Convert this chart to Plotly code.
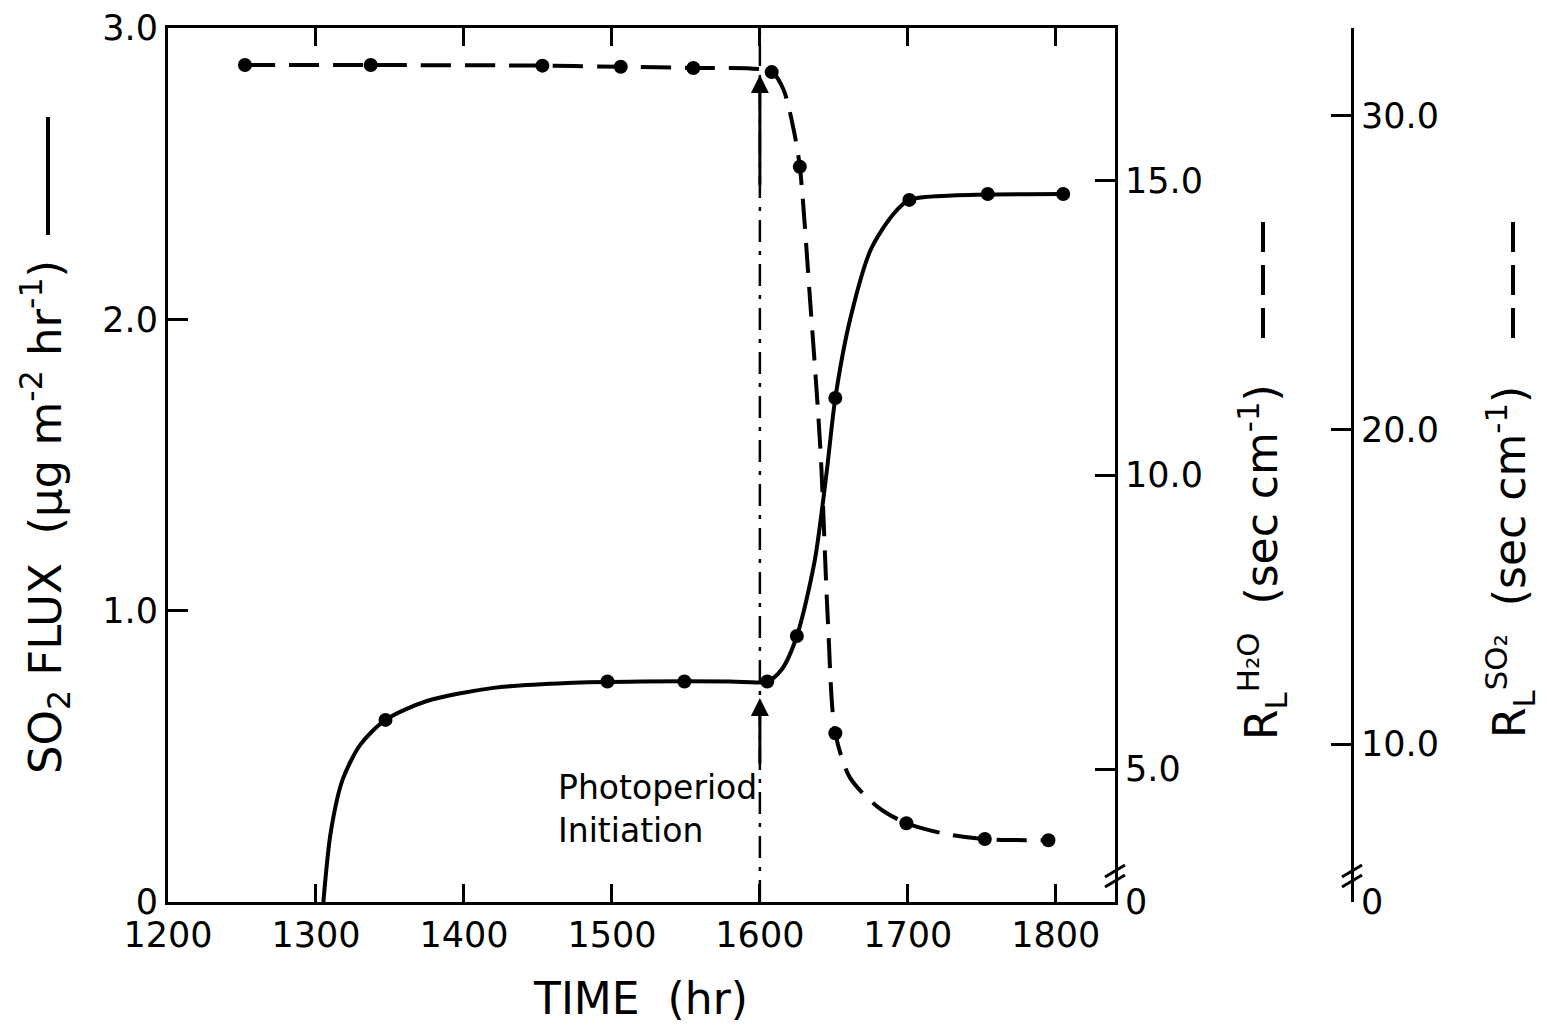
import plotly.graph_objects as go

# ---------------- data ----------------
# SO2 flux (left axis) measured points
flux_t = [1347, 1497, 1549, 1605, 1625, 1651, 1701, 1754, 1805]
flux_v = [0.625, 0.757, 0.757, 0.757, 0.913, 1.73, 2.41, 2.43, 2.43]
# SO2 flux smooth curve as drawn
flux_curve_t = [1305, 1310, 1318, 1330, 1347, 1375, 1420, 1470, 1520, 1580, 1605,
                1615, 1625, 1637, 1645, 1651, 1661, 1675, 1690, 1701, 1730, 1805]
flux_curve_v = [0.0, 0.24, 0.42, 0.54, 0.625, 0.69, 0.735, 0.752, 0.757, 0.757, 0.757,
                0.80, 0.913, 1.17, 1.47, 1.73, 2.00, 2.24, 2.36, 2.41, 2.425, 2.43]
# Leaf resistance to water vapour (right axis), measured points
res_t = [1252, 1337, 1453, 1506, 1555, 1608, 1627, 1651, 1699, 1752, 1795]
res_v = [16.97, 16.97, 16.96, 16.94, 16.92, 16.85, 15.24, 5.61, 4.08, 3.81, 3.79]
# resistance smooth curve as drawn
res_curve_t = [1252, 1337, 1453, 1506, 1555, 1608, 1616, 1623, 1627, 1634, 1641,
               1646, 1651, 1661, 1680, 1699, 1725, 1752, 1795]
res_curve_v = [16.97, 16.97, 16.96, 16.94, 16.92, 16.85, 16.55, 15.85, 15.24, 12.95, 10.4,
               7.5, 5.61, 4.85, 4.35, 4.08, 3.9, 3.81, 3.79]

x_ticks = [1200, 1300, 1400, 1500, 1600, 1700, 1800]
y1_ticks = [0, 1.0, 2.0, 3.0]
y1_labels = ["0", "1.0", "2.0", "3.0"]
h2o_break = 2.74          # value at the bottom of the broken H2O axis, labelled "0"
h2o_ticks = [h2o_break, 5.0, 10.0, 15.0]
h2o_labels = ["0", "5.0", "10.0", "15.0"]
so2_break = 4.97          # value at the bottom of the broken SO2 axis, labelled "0"
so2_ticks = [so2_break, 10.0, 20.0, 30.0]
so2_labels = ["0", "10.0", "20.0", "30.0"]
photo_time = 1600

# ---------------- layout geometry ----------------
OFF = 8                      # page body margin of the browser
W, H = 1541, 1020
ML, MT = 168 - OFF, 28 - OFF
MB = H - (902 - OFF)
MR = W - (1499 - OFF)
PW, PH = W - ML - MR, H - MT - MB


def px(xs):
    """screen pixel x -> paper fraction"""
    return (xs - OFF - ML) / PW


def py(ys):
    """screen pixel y -> paper fraction"""
    return (H - MB - (ys - OFF)) / PH


FONT = "DejaVu Sans"
BLACK = "black"

fig = go.Figure()

# SO2 flux curve + points
fig.add_trace(go.Scatter(x=flux_curve_t, y=flux_curve_v, mode="lines",
                         line=dict(color=BLACK, width=4, shape="spline", smoothing=0.8),
                         showlegend=False, hoverinfo="skip"))
fig.add_trace(go.Scatter(x=flux_t, y=flux_v, mode="markers",
                         marker=dict(color=BLACK, size=14), showlegend=False))
# resistance curve + points
fig.add_trace(go.Scatter(x=res_curve_t, y=res_curve_v, mode="lines", yaxis="y2",
                         line=dict(color=BLACK, width=4, dash="30px,14px",
                                   shape="spline", smoothing=0.8),
                         showlegend=False, hoverinfo="skip"))
fig.add_trace(go.Scatter(x=res_t, y=res_v, mode="markers", yaxis="y2",
                         marker=dict(color=BLACK, size=14), showlegend=False))
# empty trace so that the third axis is drawn
fig.add_trace(go.Scatter(x=[], y=[], yaxis="y3", showlegend=False))

tickfont = dict(family=FONT, size=35, color=BLACK)
common = dict(tickcolor=BLACK, tickwidth=2.5, showline=True, linewidth=3,
              linecolor=BLACK, showgrid=False, zeroline=False, tickfont=tickfont,
              automargin=False)
fig.update_layout(
    width=W, height=H,
    margin=dict(l=ML, r=MR, t=MT, b=MB, autoexpand=False),
    paper_bgcolor="white", plot_bgcolor="white",
    xaxis=dict(domain=[0, px(1115)], range=[1200, 1840], tickvals=x_ticks,
               ticks="inside", ticklen=18, mirror="ticks", **common),
    yaxis=dict(range=[0, 3.0], tickvals=y1_ticks, ticktext=y1_labels,
               ticks="inside", ticklen=20, **common),
    yaxis2=dict(overlaying="y", side="right", anchor="x", range=[h2o_break, 17.6],
                tickvals=h2o_ticks, ticktext=h2o_labels,
                ticks="inside", ticklen=20, **common),
    yaxis3=dict(overlaying="y", side="right", anchor="free", position=px(1352),
                range=[so2_break, 32.8],
                tickvals=so2_ticks, ticktext=so2_labels,
                ticks="inside", ticklen=20, **common),
)

shapes = []
# photoperiod initiation dash-dot line
shapes.append(dict(type="line", xref="x", yref="y", x0=photo_time, x1=photo_time,
                   y0=0, y1=3.0, line=dict(color=BLACK, width=2.5,
                                           dash="22px,9px,4px,9px")))
# axis break marks
for xc in (1115, 1352):
    for dy in (0, 10):
        shapes.append(dict(type="line", xref="paper", yref="paper",
                           x0=px(xc - 10), x1=px(xc + 10),
                           y0=py(882 + dy - 5), y1=py(870 + dy - 5),
                           line=dict(color=BLACK, width=3)))
# legend keys next to axis titles
shapes.append(dict(type="line", xref="paper", yref="paper", x0=px(48), x1=px(48),
                   y0=py(117), y1=py(235), line=dict(color=BLACK, width=4)))
for xc in (1263, 1513):
    shapes.append(dict(type="line", xref="paper", yref="paper", x0=px(xc), x1=px(xc),
                       y0=py(222), y1=py(338),
                       line=dict(color=BLACK, width=4, dash="30px,13px")))
fig.update_layout(shapes=shapes)

annotations = [
    # arrows of the photoperiod line
    dict(x=photo_time, y=0.70, xref="x", yref="y", ax=photo_time, ay=0.47,
         axref="x", ayref="y", showarrow=True, arrowhead=2, arrowsize=1.2,
         arrowwidth=3, arrowcolor=BLACK, text=""),
    dict(x=photo_time, y=16.8, xref="x", yref="y2", ax=photo_time, ay=14.9,
         axref="x", ayref="y2", showarrow=True, arrowhead=2, arrowsize=1.2,
         arrowwidth=3, arrowcolor=BLACK, text=""),
    dict(x=1462, y=0.32, xref="x", yref="y", xanchor="left", yanchor="middle",
         showarrow=False, align="left",
         text="Photoperiod<br>Initiation",
         font=dict(family=FONT, size=33, color=BLACK)),
    # axis titles
    dict(x=px(45), y=py(517), xref="paper", yref="paper", showarrow=False,
         textangle=-90, xanchor="center", yanchor="middle",
         text="SO<sub>2</sub> FLUX  (μg m<sup>-2</sup> hr<sup>-1</sup>)",
         font=dict(family=FONT, size=45, color=BLACK)),
    dict(x=px(640), y=py(998), xref="paper", yref="paper", showarrow=False,
         xanchor="center", yanchor="middle", text="TIME  (hr)",
         font=dict(family=FONT, size=44, color=BLACK)),
    dict(x=px(1262), y=py(562), xref="paper", yref="paper", showarrow=False,
         textangle=-90, xanchor="center", yanchor="middle",
         text="R<sub>L</sub><sup>H₂O</sup>  (sec cm<sup>-1</sup>)",
         font=dict(family=FONT, size=44, color=BLACK)),
    dict(x=px(1510), y=py(562), xref="paper", yref="paper", showarrow=False,
         textangle=-90, xanchor="center", yanchor="middle",
         text="R<sub>L</sub><sup>SO₂</sup>  (sec cm<sup>-1</sup>)",
         font=dict(family=FONT, size=44, color=BLACK)),
]
fig.update_layout(annotations=annotations)

fig.write_html("out.html")
